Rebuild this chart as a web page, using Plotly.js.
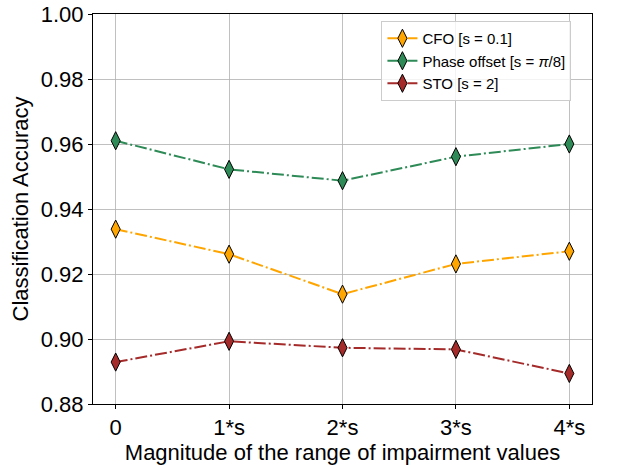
<!DOCTYPE html>
<html><head><meta charset="utf-8">
<script src="https://cdn.plot.ly/plotly-3.0.1.min.js"></script>
<style>html,body{margin:0;padding:0;background:#fff;}</style>
</head><body>
<div id="chart" style="width:619px;height:465px;"></div>
<script>
const xVals = [0, 1, 2, 3, 4];
const tickLabels = ["0", "1*s", "2*s", "3*s", "4*s"];
const cfo = [0.9338, 0.9261, 0.9138, 0.9231, 0.9270];
const phase = [0.9610, 0.9522, 0.9487, 0.9561, 0.9600];
const sto = [0.8929, 0.8993, 0.8973, 0.8968, 0.8894];
const names = ["CFO [s = 0.1]", "Phase offset [s = <i>π</i>/8]", "STO [s = 2]"];
const colors = ["#FFA500", "#2E8B57", "#A52A2A"];
const series = [cfo, phase, sto];

const traces = series.map((ys, i) => ({
  x: xVals, y: ys, name: names[i], type: "scatter", mode: "lines+markers",
  line: {color: colors[i], width: 2, dash: "12px,3px,2px,3px"},
  marker: {symbol: "diamond-tall", size: 13, color: colors[i], line: {color: "#000", width: 1}}
}));

const layout = {
  width: 619, height: 465,
  margin: {l: 93, r: 27, t: 14, b: 61},
  paper_bgcolor: "#fff", plot_bgcolor: "#fff",
  font: {family: "Liberation Sans, Arial, sans-serif", color: "#000"},
  xaxis: {
    range: [-0.2, 4.2], tickvals: xVals, ticktext: tickLabels,
    showgrid: true, gridcolor: "#b0b0b0", gridwidth: 0.8,
    showline: true, linecolor: "#000", linewidth: 1, mirror: true,
    ticks: "outside", ticklen: 4, tickcolor: "#000", zeroline: false,
    tickfont: {size: 22},
    title: {text: "Magnitude of the range of impairment values", font: {size: 22}, standoff: 2}
  },
  yaxis: {
    range: [0.88, 1.0], tickvals: [0.88, 0.90, 0.92, 0.94, 0.96, 0.98, 1.00], tickformat: ".2f",
    showgrid: true, gridcolor: "#b0b0b0", gridwidth: 0.8,
    showline: true, linecolor: "#000", linewidth: 1, mirror: true,
    ticks: "outside", ticklen: 4, tickcolor: "#000", zeroline: false,
    tickfont: {size: 22},
    title: {text: "Classification Accuracy", font: {size: 22}, standoff: 6}
  },
  legend: {
    x: 0.578, y: 0.982, xanchor: "left", yanchor: "top",
    bgcolor: "rgba(255,255,255,0.8)", bordercolor: "#cccccc", borderwidth: 1,
    font: {size: 15}, tracegroupgap: 0
  },
  showlegend: true
};
Plotly.newPlot("chart", traces, layout, {displayModeBar: false, staticPlot: true});
</script>
</body></html>
